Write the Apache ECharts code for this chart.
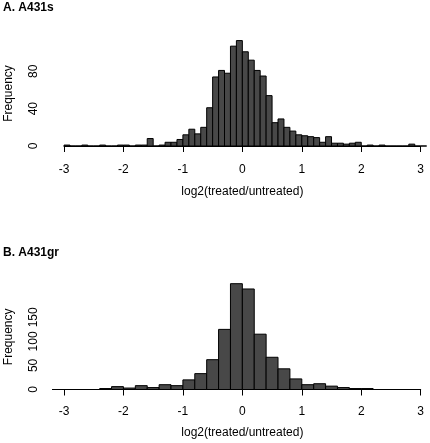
<!DOCTYPE html>
<html>
<head>
<meta charset="utf-8">
<script src="https://cdn.jsdelivr.net/npm/echarts@6/dist/echarts.min.js"></script>
<style>
html,body{margin:0;padding:0;background:#fff;}
#chart{width:430px;height:443px;}
</style>
</head>
<body>
<div id="chart"></div>
<script>
// Panel A: A431s, bins of width 0.1 starting at -3.0
const topTitle = 'A. A431s';
const topBinStart = -3.0;
const topBinWidth = 0.1;
const topCounts = [
  1, 0, 0, 1, 0, 0, 1, 0, 0, 1,      // -3.0 .. -2.1
  1, 0, 1, 1, 8, 0, 1, 4, 4, 7,      // -2.0 .. -1.1
  12, 18, 13, 20, 41, 74, 81, 78, 107, 113, // -1.0 .. -0.1
  101, 92, 81, 75, 54, 25, 29, 20, 16, 12,  // 0.0 .. 0.9
  11, 10, 9, 4, 10, 3, 3, 2, 3, 4,   // 1.0 .. 1.9
  0, 1, 0, 1, 0, 0, 0, 0, 2, 0,      // 2.0 .. 2.9
  0                                   // 3.0
];
const topYLabels = [0, 40, 80];

// Panel B: A431gr, bins of width 0.2 starting at -3.2
const botTitle = 'B. A431gr';
const botBinStart = -3.2;
const botBinWidth = 0.2;
const botCounts = [
  0, 0, 0, 0, 2, 6, 3, 8, 4, 10,     // -3.2 .. -1.4
  8, 20, 33, 62, 125, 220, 209, 115, 67, 43, // -1.2 .. 0.6
  22, 10, 12, 7, 4, 2, 2, 0, 0, 0,   // 0.8 .. 2.6
  0                                   // 2.8
];
const botYLabels = [0, 50, 100, 150];

const xTickLabels = ['-3', '-2', '-1', '0', '1', '2', '3'];
const xName = 'log2(treated/untreated)';
const yName = 'Frequency';

const FONT = "'Liberation Sans', Arial, Helvetica, sans-serif";

function bins(start, width, counts) {
  return counts.map((c, i) => {
    const x0 = Math.round((start + i * width) * 1000) / 1000;
    const x1 = Math.round((start + (i + 1) * width) * 1000) / 1000;
    return [x0, x1, c];
  });
}

function renderBar(params, api) {
  const p0 = api.coord([api.value(0), api.value(2)]);
  const p1 = api.coord([api.value(1), 0]);
  return {
    type: 'rect',
    shape: { x: p0[0], y: p0[1], width: p1[0] - p0[0], height: p1[1] - p0[1] },
    style: { fill: '#484848', stroke: '#000', lineWidth: 1 }
  };
}

const chart = echarts.init(document.getElementById('chart'), null, { renderer: 'canvas' });

function xAxisCfg(gridIndex, offset, nameGap) {
  return {
    type: 'value', gridIndex, min: -3, max: 3, interval: 1,
    offset,
    axisLine: { show: true, lineStyle: { color: '#000', width: 1 } },
    axisTick: { show: true, length: 6, lineStyle: { color: '#000' } },
    axisLabel: { color: '#000', fontSize: 12, fontFamily: FONT, margin: 12, rotate: 0,
      formatter: v => xTickLabels[Math.round(v) + 3] },
    splitLine: { show: false },
    name: xName, nameLocation: 'middle', nameGap, nameRotate: 0,
    nameTextStyle: { color: '#000', fontSize: 12, fontFamily: FONT }
  };
}

function yAxisCfg(gridIndex, max, interval, labels) {
  return {
    type: 'value', gridIndex, min: 0, max, interval,
    offset: 14.5,
    axisLine: { show: true, lineStyle: { color: '#000', width: 1 } },
    axisTick: { show: true, length: 6, lineStyle: { color: '#000' } },
    axisLabel: {
      color: '#000', fontSize: 12, fontFamily: FONT, rotate: 90, margin: 10,
      formatter: v => (labels.indexOf(v) >= 0 ? String(v) : '')
    },
    splitLine: { show: false }
  };
}

chart.setOption({
  animation: false,
  backgroundColor: '#fff',
  title: [
    { text: topTitle, left: 3, top: 2, padding: 0,
      textStyle: { fontSize: 12, fontWeight: 'bold', fontFamily: FONT, color: '#000' } },
    { text: botTitle, left: 3, top: 247, padding: 0,
      textStyle: { fontSize: 12, fontWeight: 'bold', fontFamily: FONT, color: '#000' } }
  ],
  grid: [
    { left: 64, right: 9.3, top: 52.7, height: 93.3 },
    { left: 64, right: 9.3, top: 293.3, height: 96.2 }
  ],
  xAxis: [xAxisCfg(0, 5.5, 34), xAxisCfg(1, 4.5, 33)],
  yAxis: [yAxisCfg(0, 100, 20, topYLabels), yAxisCfg(1, 200, 50, botYLabels)],
  graphic: [
    { type: 'text', x: 9, y: 93.5, rotation: Math.PI / 2,
      style: { text: yName, font: '12px ' + FONT, fill: '#000', align: 'center', verticalAlign: 'middle' } },
    { type: 'text', x: 9, y: 336.8, rotation: Math.PI / 2,
      style: { text: yName, font: '12px ' + FONT, fill: '#000', align: 'center', verticalAlign: 'middle' } }
  ],
  series: [
    { type: 'custom', xAxisIndex: 0, yAxisIndex: 0, clip: false,
      data: bins(topBinStart, topBinWidth, topCounts),
      encode: { x: [0, 1], y: 2 }, renderItem: renderBar },
    { type: 'custom', xAxisIndex: 1, yAxisIndex: 1, clip: false,
      data: bins(botBinStart, botBinWidth, botCounts),
      encode: { x: [0, 1], y: 2 }, renderItem: renderBar }
  ]
});
</script>
</body>
</html>
